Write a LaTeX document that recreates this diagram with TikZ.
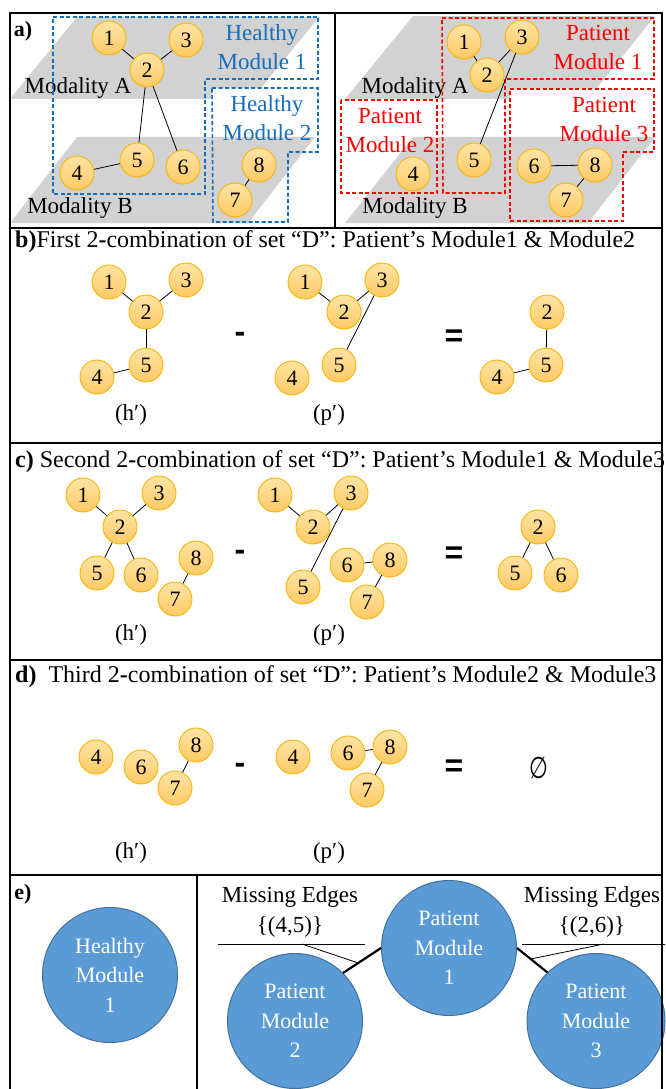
\documentclass[tikz,border=0pt]{standalone}
\usepackage{fontspec}
\setmainfont{Liberation Serif}
\newfontfamily\sansfam{Liberation Sans}
\newfontfamily\symfam{DejaVu Sans}
\usepackage{tikz}
\usetikzlibrary{shapes.geometric}
\usetikzlibrary{calc}
\definecolor{planegray}{RGB}{210,210,210}
\definecolor{vertedge}{RGB}{245,180,10}
\definecolor{verttop}{RGB}{255,228,165}
\definecolor{vertbot}{RGB}{255,202,100}
\definecolor{hblue}{RGB}{20,110,190}
\definecolor{pred}{RGB}{255,0,0}
\definecolor{modfill}{RGB}{91,155,213}
\definecolor{modline}{RGB}{65,113,156}
\tikzstyle{vert} = [draw=vertedge,circle,line width=0.9pt,minimum size=34pt,inner sep=0pt,top color=verttop,bottom color=vertbot,font=\fontsize{22}{22}\selectfont]
\tikzstyle{plane} = [fill=planegray,draw=none]
\tikzstyle{hbox} = [draw=hblue,line width=1.6pt,dash pattern=on 4pt off 2.5pt]
\tikzstyle{pbox} = [draw=pred,line width=1.6pt,dash pattern=on 4pt off 2.5pt]
\tikzstyle{lbl} = [font=\fontsize{23}{29}\selectfont,align=center,inner sep=0pt]
\tikzstyle{title} = [anchor=west,font=\fontsize{24}{24}\selectfont,inner sep=0pt]
\tikzstyle{opsign} = [font=\sansfam\bfseries\fontsize{32}{32}\selectfont,inner sep=0pt]
\tikzstyle{modnode} = [ellipse,draw=modline,fill=modfill,text=white,line width=1pt,align=center,inner sep=0pt,font=\fontsize{22}{29.5}\selectfont]
\tikzstyle{link} = [line width=0.8pt]

\begin{document}
\begin{tikzpicture}[x=1pt,y=-1pt]
\useasboundingbox (0,0) rectangle (665,1089);

%% a) modality planes
\fill[plane] (10,99) -- (77,17) -- (319,17) -- (252,99) -- cycle;
\fill[plane] (345,99) -- (413,16) -- (655,16) -- (588,99) -- cycle;
\fill[white] (212,88) -- (318,88) -- (318,152) -- (288,152) -- (288,222) -- (213,222) -- cycle;
\fill[white] (510,89) -- (654,89) -- (654,152) -- (623,152) -- (623,221) -- (510,221) -- cycle;
\fill[plane] (10,223) -- (77,137) -- (315,137) -- (248,223) -- cycle;
\fill[plane] (345,223) -- (413,137) -- (655,137) -- (588,223) -- cycle;
\draw(78,88) node (modA) [lbl] {Modality A};
\draw(80,208) node (modB) [lbl] {Modality B};
\draw(415,88) node (modA2) [lbl] {Modality A};
\draw(415,208) node (modB2) [lbl] {Modality B};

%% healthy modules
\draw[hbox] (53,17) -- (318,17) -- (318,79) -- (205,79) -- (205,194) -- (53,194) -- cycle;
\draw[hbox] (212,88) -- (318,88) -- (318,152) -- (288,152) -- (288,222) -- (213,222) -- cycle;
\draw(262,47) node (hm1) [lbl,text=hblue] {Healthy\\Module 1};
\draw(267,118) node (hm2) [lbl,text=hblue] {Healthy\\Module 2};

%% patient modules
\draw[pbox] (442,18) -- (654,18) -- (654,79) -- (505,79) -- (505,193) -- (443,193) -- cycle;
\draw[pbox] (341,100) rectangle (437,193);
\draw[pbox] (510,89) -- (654,89) -- (654,152) -- (623,152) -- (623,221) -- (510,221) -- cycle;
\draw(598,47) node (pm1) [lbl,text=pred] {Patient\\Module 1};
\draw(390,130) node (pm2) [lbl,text=pred] {Patient\\Module 2};
\draw(604,119) node (pm3) [lbl,text=pred] {Patient\\Module 3};

\draw(23,31) node (la) [font=\fontsize{22}{22}\selectfont\bfseries] {a)};

%% healthy graph
\draw(109,38) node (h1) [vert] {1};
\draw(147,70) node (h2) [vert] {2};
\draw(186,40) node (h3) [vert] {3};
\draw(77,173) node (h4) [vert] {4};
\draw(137,160) node (h5) [vert] {5};
\draw(183,167) node (h6) [vert] {6};
\draw(235,200) node (h7) [vert] {7};
\draw(259,165) node (h8) [vert] {8};
\draw[link] (h1) -- (h2);
\draw[link] (h2) -- (h3);
\draw[link] (h2) -- (h5);
\draw[link] (h2) -- (h6);
\draw[link] (h4) -- (h5);
\draw[link] (h7) -- (h8);

%% patient graph
\draw(464,42) node (p1) [vert] {1};
\draw(487,75) node (p2) [vert] {2};
\draw(522,37) node (p3) [vert] {3};
\draw(413,174) node (p4) [vert] {4};
\draw(474,160) node (p5) [vert] {5};
\draw(534,166) node (p6) [vert] {6};
\draw(566,200) node (p7) [vert] {7};
\draw(595,165) node (p8) [vert] {8};
\draw[link] (p1) -- (p2);
\draw[link] (p2) -- (p3);
\draw[link] (p3) -- (p5);
\draw[link] (p6) -- (p8);
\draw[link] (p7) -- (p8);

%% b)
\draw(15,242) node (tb) [title] {\textbf{b)}First 2\textbf{-}combination of set “D”: Patient’s Module1 \& Module2};
\draw(109,282) node (bh1) [vert] {1};
\draw(146,312) node (bh2) [vert] {2};
\draw(186,280) node (bh3) [vert] {3};
\draw(97,377) node (bh4) [vert] {4};
\draw(146,365) node (bh5) [vert] {5};
\draw[link] (bh1) -- (bh2);
\draw[link] (bh2) -- (bh3);
\draw[link] (bh2) -- (bh5);
\draw[link] (bh4) -- (bh5);
\draw(131,415) node (bhl) [lbl] {(h′)};
\draw(240,337) node (bminus) [opsign] {-};
\draw(305,282) node (bp1) [vert] {1};
\draw(344,312) node (bp2) [vert] {2};
\draw(382,280) node (bp3) [vert] {3};
\draw(292,378) node (bp4) [vert] {4};
\draw(339,365) node (bp5) [vert] {5};
\draw[link] (bp1) -- (bp2);
\draw[link] (bp2) -- (bp3);
\draw[link] (bp3) -- (bp5);
\draw(329,415) node (bpl) [lbl] {(p′)};
\draw(454,338) node (beq) [opsign] {=};
\draw(547,312) node (br2) [vert] {2};
\draw(497,377) node (br4) [vert] {4};
\draw(546,365) node (br5) [vert] {5};
\draw[link] (br2) -- (br5);
\draw[link] (br4) -- (br5);

%% c)
\draw(15,462) node (tc) [title] {\textbf{c)} Second 2\textbf{-}combination of set “D”: Patient’s Module1 \& Module3};
\draw(83,495) node (ch1) [vert] {1};
\draw(120,527) node (ch2) [vert] {2};
\draw(159,493) node (ch3) [vert] {3};
\draw(97,573) node (ch5) [vert] {5};
\draw(141,575) node (ch6) [vert] {6};
\draw(175,599) node (ch7) [vert] {7};
\draw(196,558) node (ch8) [vert] {8};
\draw[link] (ch1) -- (ch2);
\draw[link] (ch2) -- (ch3);
\draw[link] (ch2) -- (ch5);
\draw[link] (ch2) -- (ch6);
\draw[link] (ch7) -- (ch8);
\draw(131,635) node (chl) [lbl] {(h′)};
\draw(240,555) node (cminus) [opsign] {-};
\draw(275,495) node (cp1) [vert] {1};
\draw(313,527) node (cp2) [vert] {2};
\draw(351,493) node (cp3) [vert] {3};
\draw(303,587) node (cp5) [vert] {5};
\draw(347,565) node (cp6) [vert] {6};
\draw(367,602) node (cp7) [vert] {7};
\draw(390,560) node (cp8) [vert] {8};
\draw[link] (cp1) -- (cp2);
\draw[link] (cp2) -- (cp3);
\draw[link] (cp3) -- (cp5);
\draw[link] (cp6) -- (cp8);
\draw[link] (cp7) -- (cp8);
\draw(329,635) node (cpl) [lbl] {(p′)};
\draw(454,555) node (ceq) [opsign] {=};
\draw(538,527) node (cr2) [vert] {2};
\draw(515,573) node (cr5) [vert] {5};
\draw(561,575) node (cr6) [vert] {6};
\draw[link] (cr2) -- (cr5);
\draw[link] (cr2) -- (cr6);

%% d)
\draw(15,677) node (td) [title] {\textbf{d)}\ \ Third 2\textbf{-}combination of set “D”: Patient’s Module2 \& Module3};
\draw(96,757) node (dh4) [vert] {4};
\draw(141,767) node (dh6) [vert] {6};
\draw(175,788) node (dh7) [vert] {7};
\draw(196,745) node (dh8) [vert] {8};
\draw[link] (dh7) -- (dh8);
\draw(131,853) node (dhl) [lbl] {(h′)};
\draw(240,768) node (dminus) [opsign] {-};
\draw(293,757) node (dp4) [vert] {4};
\draw(348,753) node (dp6) [vert] {6};
\draw(367,790) node (dp7) [vert] {7};
\draw(390,747) node (dp8) [vert] {8};
\draw[link] (dp6) -- (dp8);
\draw[link] (dp7) -- (dp8);
\draw(329,853) node (dpl) [lbl] {(p′)};
\draw(454,768) node (deq) [opsign] {=};
\draw(539,768) node (dempty) [font=\symfam\fontsize{30}{30}\selectfont,xscale=0.72,transform shape] {∅};

%% e)
\draw(23,894) node (le) [font=\fontsize{22}{22}\selectfont\bfseries] {e)};
\draw(110,975) node (hmod1) [modnode,minimum width=135pt,minimum height=135pt] {Healthy\\Module\\1};
\draw(449,948) node (pmod1) [modnode,minimum width=135pt,minimum height=135pt] {Patient\\Module\\1};
\draw(295,1021) node (pmod2) [modnode,minimum width=135pt,minimum height=135pt] {Patient\\Module\\2};
\draw(596,1021) node (pmod3) [modnode,minimum width=138pt,minimum height=135pt] {Patient\\Module\\3};
\draw[line width=2.2pt] (pmod2.45) -- (pmod1.180);
\draw[line width=2.2pt] (pmod1.0) -- (pmod3.135);
\draw(290,912) node (miss1) [lbl,font=\fontsize{23}{30}\selectfont] {Missing Edges\\\{(4,5)\}};
\draw(592,912) node (miss2) [lbl,font=\fontsize{23}{30}\selectfont] {Missing Edges\\\{(2,6)\}};
\coordinate (rule1a) at (218,944);
\coordinate (rule1b) at (365,944);
\coordinate (rule1c) at (302,944);
\coordinate (rule2a) at (522,944);
\coordinate (rule2b) at (665,944);
\coordinate (rule2c) at (604,944);
\draw[link] (rule1a) -- (rule1b);
\draw[link] (rule2a) -- (rule2b);
\draw[link] (rule1c) -- ($(pmod2.45)!0.4!(pmod1.180)$);
\draw[link] (rule2c) -- ($(pmod1.0)!0.45!(pmod3.135)$);

%% frame
\draw[line width=2pt] (10,1092) -- (10,13) -- (662,13) -- (662,1092);
\draw[line width=2.6pt] (10,228) -- (662,228);
\draw[line width=2.6pt] (10,443) -- (662,443);
\draw[line width=2.6pt] (10,660) -- (662,660);
\draw[line width=2.6pt] (10,875) -- (662,875);
\draw[line width=1.2pt] (335,13) -- (335,228);
\draw[line width=1.2pt] (197,875) -- (197,1092);
\end{tikzpicture}
\end{document}
